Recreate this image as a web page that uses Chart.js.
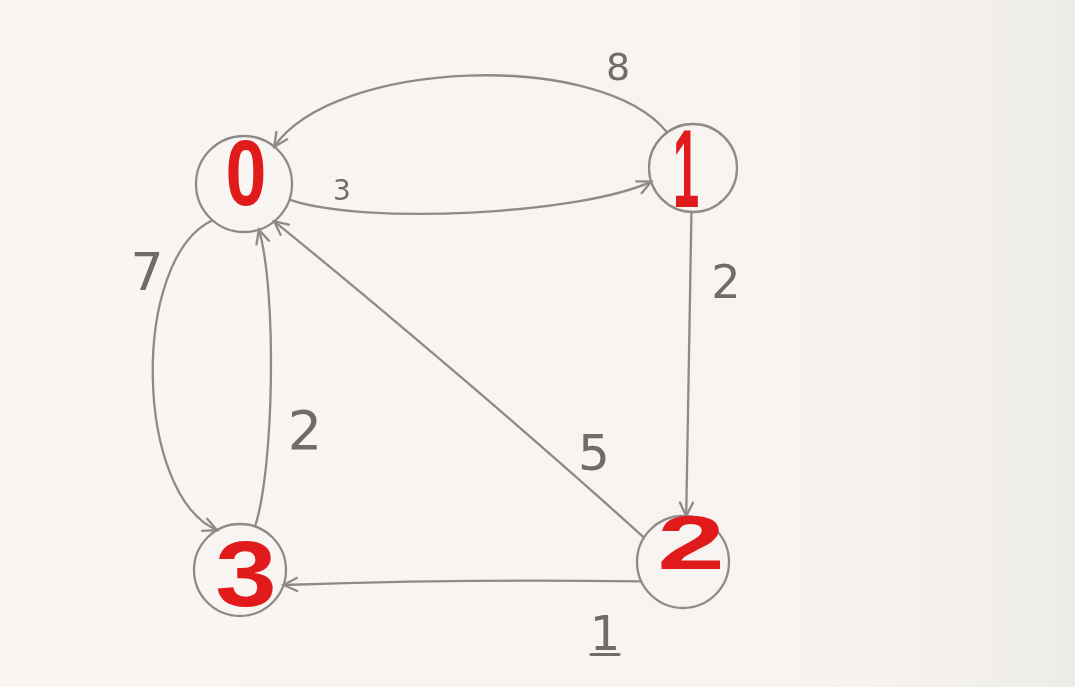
<!DOCTYPE html>
<html>
<head>
<meta charset="utf-8">
<script src="https://cdn.jsdelivr.net/npm/chart.js@4.4.1/dist/chart.umd.min.js"></script>
<style>
  html, body { margin: 0; padding: 0; background: #f6f3f0; }
  #wrap { width: 1075px; height: 687px; }
</style>
</head>
<body>
<div id="wrap"><canvas id="graph"></canvas></div>
<script>
"use strict";

// the nodes (placed in picture units, x 0..1075, y 0..687 from the top)
let nodeNames = ["0", "1", "2", "3"];
let nodeX = [244, 693, 683, 240];
let nodeY = [184, 168, 562, 570];

// the directed edges and their weights
let edgeFrom = [1, 0, 1, 2, 2, 0, 3];
let edgeTo = [0, 1, 2, 0, 3, 3, 0];
let edgeWeight = [8, 3, 2, 5, 1, 7, 2];

// layout only: circle sizes, where edges leave / enter, how much they bow
let nodeRadius = [48, 44, 46, 46];
let edgeStartAngle = [-126, 19, 92, -148, 155, 131, -71];
let edgeEndAngle = [-51, 162, -86, 51, 19, -120, 72];
let edgeBend = [64, 22, 0, 3, 2, 62, 14];
let edgeSteep = [0.16, 0.2, 0.3, 0.3, 0.3, 0.12, 0.2];

// where the weight is written, and how big
let weightSpot = [[618, 66], [342, 190], [726, 281], [594, 452], [605, 633], [147, 271], [305, 430]];
let weightSize = [38, 28, 46, 50, 48, 52, 54];

// red node numbers: offset from centre, font size, horizontal stretch
let redStyle = [
  { dx: 2, dy: -12, size: 92, sx: 0.8 },
  { dx: -7, dy: -1, size: 112, sx: 0.42 },
  { dx: 8, dy: -20, size: 76, sx: 1.6 },
  { dx: 6, dy: 3, size: 92, sx: 1.2 },
];

let lineGray = "#8d8b88";
let textGray = "#6f6d6a";
let red = "#e11b1b";

function rad(deg) {
  return deg * Math.PI / 180;
}

function edgeEnds(i) {
  let f = edgeFrom[i];
  let t = edgeTo[i];
  return [
    {
      x: nodeX[f] + nodeRadius[f] * Math.cos(rad(edgeStartAngle[i])),
      y: nodeY[f] + nodeRadius[f] * Math.sin(rad(edgeStartAngle[i])),
    },
    {
      x: nodeX[t] + nodeRadius[t] * Math.cos(rad(edgeEndAngle[i])),
      y: nodeY[t] + nodeRadius[t] * Math.sin(rad(edgeEndAngle[i])),
    },
  ];
}

let datasets = [];
for (let i = 0; i < edgeWeight.length; i++) {
  datasets.push({
    label: "edge " + edgeFrom[i] + "-" + edgeTo[i],
    data: edgeEnds(i),
    showLine: true,
    tension: 0.4,
    borderColor: lineGray,
    borderWidth: 2.3,
    pointRadius: 0,
    fill: false,
  });
}
let nodeData = [];
for (let i = 0; i < nodeNames.length; i++) {
  nodeData.push({ x: nodeX[i], y: nodeY[i] });
}
datasets.push({
  label: "nodes",
  data: nodeData,
  pointRadius: nodeRadius,
  pointBackgroundColor: "rgba(0,0,0,0)",
  pointBorderColor: lineGray,
  pointBorderWidth: 2.3,
});

// paper background
let paper = {
  id: "paper",
  beforeDraw(chart) {
    let ctx = chart.ctx;
    let g = ctx.createLinearGradient(0, 0, chart.width, 0);
    g.addColorStop(0, "#f8f5f2");
    g.addColorStop(0.8, "#f6f3f0");
    g.addColorStop(1, "#eeece9");
    ctx.save();
    ctx.fillStyle = g;
    ctx.fillRect(0, 0, chart.width, chart.height);
    ctx.restore();
  },
};

// bow every edge: set the bezier handles of its two points
let bow = {
  id: "bow",
  beforeDatasetsDraw(chart) {
    let xs = chart.scales.x;
    let unit = Math.abs(xs.getPixelForValue(1) - xs.getPixelForValue(0));
    for (let i = 0; i < edgeWeight.length; i++) {
      let meta = chart.getDatasetMeta(i);
      meta.dataset.updateControlPoints(chart.chartArea);
      let a = meta.data[0];
      let b = meta.data[1];
      let dx = b.x - a.x;
      let dy = b.y - a.y;
      let len = Math.hypot(dx, dy);
      let h = edgeBend[i] * unit / 0.75;
      let nx = -dy / len * h;
      let ny = dx / len * h;
      let k = edgeSteep[i];
      a.cp2x = a.x + k * dx + nx;
      a.cp2y = a.y + k * dy + ny;
      b.cp1x = b.x - k * dx + nx;
      b.cp1y = b.y - k * dy + ny;
    }
  },
};

// arrow heads, weights and the red node numbers
let marks = {
  id: "marks",
  afterDatasetsDraw(chart) {
    let ctx = chart.ctx;
    let xs = chart.scales.x;
    let ys = chart.scales.y;
    ctx.save();

    for (let i = 0; i < edgeWeight.length; i++) {
      let pts = chart.getDatasetMeta(i).data;
      let end = pts[1];
      let ang = Math.atan2(end.y - end.cp1y, end.x - end.cp1x);
      let size = 15;
      ctx.strokeStyle = lineGray;
      ctx.lineWidth = 2.3;
      ctx.lineCap = "round";
      ctx.beginPath();
      ctx.moveTo(end.x - size * Math.cos(ang - 0.45), end.y - size * Math.sin(ang - 0.45));
      ctx.lineTo(end.x, end.y);
      ctx.lineTo(end.x - size * Math.cos(ang + 0.45), end.y - size * Math.sin(ang + 0.45));
      ctx.stroke();

      let px = xs.getPixelForValue(weightSpot[i][0]);
      let py = ys.getPixelForValue(weightSpot[i][1]);
      ctx.fillStyle = textGray;
      ctx.font = weightSize[i] + 'px "DejaVu Sans"';
      ctx.textAlign = "center";
      ctx.textBaseline = "alphabetic";
      ctx.fillText(String(edgeWeight[i]), px, py + weightSize[i] * 0.36);
      if (edgeWeight[i] === 1) {
        ctx.beginPath();
        ctx.moveTo(px - 14, py + weightSize[i] * 0.45);
        ctx.lineTo(px + 14, py + weightSize[i] * 0.45);
        ctx.strokeStyle = textGray;
        ctx.lineWidth = 3;
        ctx.stroke();
      }
    }

    for (let i = 0; i < nodeNames.length; i++) {
      let st = redStyle[i];
      let px = xs.getPixelForValue(nodeX[i] + st.dx);
      let py = ys.getPixelForValue(nodeY[i] + st.dy);
      ctx.save();
      ctx.translate(px, py);
      ctx.scale(st.sx, 1);
      ctx.fillStyle = red;
      ctx.font = "bold " + st.size + 'px "Liberation Sans"';
      ctx.textAlign = "center";
      ctx.textBaseline = "alphabetic";
      ctx.fillText(nodeNames[i], 0, st.size * 0.36);
      ctx.restore();
    }
    ctx.restore();
  },
};

let chart = new Chart(document.getElementById("graph"), {
  type: "scatter",
  data: { datasets: datasets },
  options: {
    responsive: true,
    maintainAspectRatio: false,
    animation: false,
    events: [],
    layout: { padding: 0, autoPadding: false },
    plugins: {
      legend: { display: false },
      tooltip: { enabled: false },
    },
    scales: {
      x: { type: "linear", min: 0, max: 1075, display: false },
      y: { type: "linear", min: 0, max: 687, reverse: true, display: false },
    },
  },
  plugins: [paper, bow, marks],
});
</script>
</body>
</html>
